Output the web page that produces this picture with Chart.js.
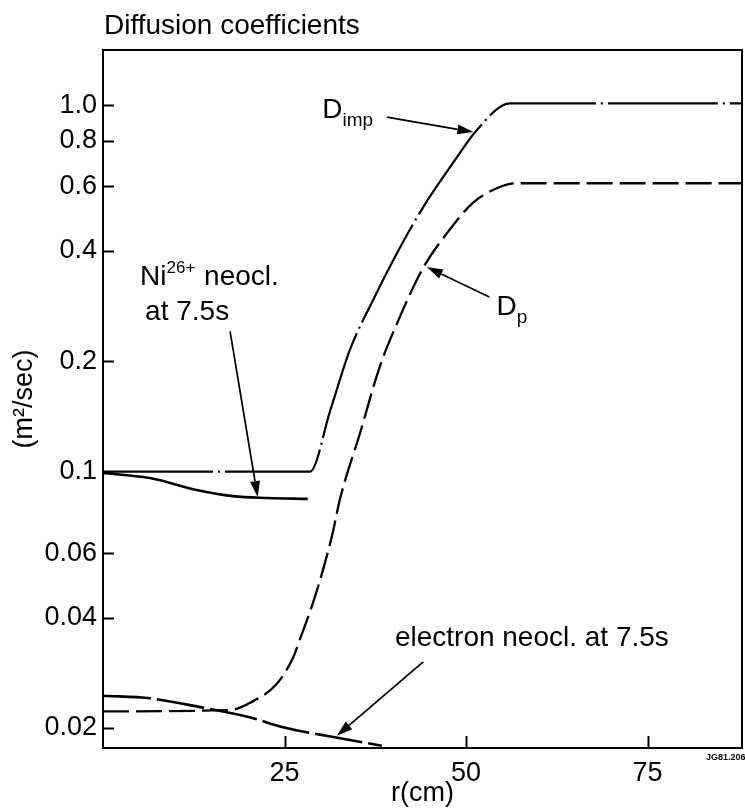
<!DOCTYPE html>
<html>
<head>
<meta charset="utf-8">
<script src="https://cdn.jsdelivr.net/npm/chart.js@4.4.1/dist/chart.umd.min.js"></script>
<style>
  html, body { margin: 0; padding: 0; background: #fff; }
  canvas { display: block; }
</style>
</head>
<body>
<canvas id="c" width="745" height="810"></canvas>
<script>
// ---------------- data ----------------
const titleText = 'Diffusion coefficients';
const xAxisTitle = 'r(cm)';
const yAxisTitle = '(m\u00B2/sec)';
const xRange = [0, 88];
const yRange = [0.01764, 1.413];
const xTickValues = [25, 50, 75];
const yTickValues = [0.02, 0.04, 0.06, 0.1, 0.2, 0.4, 0.6, 0.8, 1.0];
const yTickLabels = ['0.02', '0.04', '0.06', '0.1', '0.2', '0.4', '0.6', '0.8', '1.0'];

// D_imp (long dash-dot)
const dImpR = [0, 28.5, 31.3, 34.0, 37.2, 40.5, 44.1, 48.2, 51.5, 56.0, 88];
const dImpV = [0.100, 0.100, 0.147, 0.215, 0.294, 0.395, 0.527, 0.695, 0.855, 1.01, 1.01];

// D_p (dashed)
const dPR = [0, 17.5, 20.2, 24.0, 26.2, 27.1, 28.9, 30.3, 31.7, 32.6, 35.4, 38.1, 40.5, 44.1, 47.4, 50.9, 54.3, 57.0, 88];
const dPV = [0.0222, 0.0224, 0.0234, 0.0265, 0.0312, 0.0348, 0.0438, 0.054, 0.069, 0.0837, 0.1275, 0.193, 0.254, 0.360, 0.448, 0.540, 0.594, 0.612, 0.612];

// Ni26+ neoclassical at 7.5 s (solid)
const niR = [0, 5.5, 7.4, 12.9, 17.9, 22.6, 28.2];
const niV = [0.0992, 0.0967, 0.0952, 0.0892, 0.0858, 0.0848, 0.0843];

// electron neoclassical at 7.5 s (long dashes)
const elR = [0, 6.5, 13.4, 20.2, 24.8, 31.7, 38.4];
const elV = [0.0245, 0.0241, 0.0228, 0.0214, 0.0201, 0.0189, 0.0179];

// annotation labels (positions in data units: r, value)
const labels = [
  { r: 30.2, v: 0.922, parts: [{ t: 'D' }, { t: 'imp', sub: true }] },
  { r: 54.2, v: 0.268, parts: [{ t: 'D' }, { t: 'p', sub: true }] },
  { r: 5.1, v: 0.3228, parts: [{ t: 'Ni' }, { t: '26+', sup: true }, { t: ' neocl.' }] },
  { r: 5.8, v: 0.259, parts: [{ t: 'at 7.5s' }] },
  { r: 40.2, v: 0.0334, parts: [{ t: 'electron neocl. at 7.5s' }] }
];
const arrows = [
  { from: [39.1, 0.927], to: [51.0, 0.844] },
  { from: [53.2, 0.2995], to: [44.6, 0.3617] },
  { from: [17.5, 0.2415], to: [21.3, 0.0853] },
  { from: [44.1, 0.0303], to: [32.2, 0.01905] }
];
const stampText = 'JG81.206';

// ---------------- chart ----------------
const FONT = '"Liberation Sans", Arial, Helvetica, sans-serif';
const pts = (rs, vs) => rs.map((r, i) => ({ x: r, y: vs[i] }));

const decor = {
  id: 'decor',
  afterDraw(chart) {
    const { ctx, chartArea: a, scales: { x, y } } = chart;
    ctx.save();
    ctx.strokeStyle = '#000';
    ctx.fillStyle = '#000';
    ctx.lineWidth = 2;
    // inward tick marks
    ctx.beginPath();
    y.ticks.forEach(t => {
      const py = Math.round(y.getPixelForValue(t.value)) + 0.5;
      ctx.moveTo(a.left, py); ctx.lineTo(a.left + 11, py);
    });
    x.ticks.forEach(t => {
      const px = Math.round(x.getPixelForValue(t.value)) + 0.5;
      ctx.moveTo(px, a.bottom); ctx.lineTo(px, a.bottom - 12);
    });
    ctx.stroke();

    ctx.textBaseline = 'alphabetic';
    ctx.textAlign = 'left';

    // title
    ctx.font = '28px ' + FONT;
    ctx.fillText(titleText, a.left + 1, a.top - 16);

    // labels
    labels.forEach(l => {
      let px = x.getPixelForValue(l.r);
      const py = y.getPixelForValue(l.v);
      l.parts.forEach(p => {
        let size = 28, dy = 0;
        if (p.sub) { size = 19; dy = 8; }
        if (p.sup) { size = 17; dy = -12; }
        ctx.font = size + 'px ' + FONT;
        ctx.fillText(p.t, px, py + dy);
        px += ctx.measureText(p.t).width + (p.sub || p.sup ? 1 : 0);
      });
    });

    // arrows
    ctx.lineWidth = 1.7;
    arrows.forEach(ar => {
      const x0 = x.getPixelForValue(ar.from[0]), y0 = y.getPixelForValue(ar.from[1]);
      const x1 = x.getPixelForValue(ar.to[0]), y1 = y.getPixelForValue(ar.to[1]);
      const ang = Math.atan2(y1 - y0, x1 - x0);
      const Lh = 16, W = 5;
      const bx = x1 - Lh * Math.cos(ang), by = y1 - Lh * Math.sin(ang);
      ctx.beginPath();
      ctx.moveTo(x0, y0); ctx.lineTo(bx, by);
      ctx.stroke();
      ctx.beginPath();
      ctx.moveTo(x1, y1);
      ctx.lineTo(bx + W * Math.sin(ang), by - W * Math.cos(ang));
      ctx.lineTo(bx - W * Math.sin(ang), by + W * Math.cos(ang));
      ctx.closePath();
      ctx.fill();
    });

    // stamp
    ctx.font = 'bold 9px ' + FONT;
    ctx.fillText(stampText, a.right - 36, a.bottom + 12);
    ctx.restore();
  }
};

const common = { pointRadius: 0, borderColor: '#000', fill: false, cubicInterpolationMode: 'monotone' };
const tickFont = { family: FONT, size: 27 };
const axisBorder = { display: true, color: '#000', width: 2 };
const noGrid = { display: false, drawTicks: false };

new Chart(document.getElementById('c'), {
  type: 'line',
  data: {
    datasets: [
      Object.assign({ label: 'D_imp', data: pts(dImpR, dImpV), borderWidth: 2.2, borderDash: [110, 5, 2, 5] }, common),
      Object.assign({ label: 'D_p', data: pts(dPR, dPV), borderWidth: 2.3, borderDash: [26, 7] }, common),
      Object.assign({ label: 'Ni26+ neocl. at 7.5s', data: pts(niR, niV), borderWidth: 2.6 }, common),
      Object.assign({ label: 'electron neocl. at 7.5s', data: pts(elR, elV), borderWidth: 2.6, borderDash: [48, 6] }, common)
    ]
  },
  options: {
    responsive: false,
    animation: false,
    layout: { padding: { top: 50, right: 3, left: 0, bottom: 0 } },
    plugins: { legend: { display: false }, tooltip: { enabled: false }, title: { display: false } },
    scales: {
      x: {
        type: 'linear', position: 'bottom', min: xRange[0], max: xRange[1],
        afterBuildTicks: s => { s.ticks = xTickValues.map(v => ({ value: v })); },
        grid: noGrid,
        border: axisBorder,
        ticks: { color: '#000', padding: 9, font: tickFont, callback: v => String(v), maxRotation: 0 },
        title: { display: true, text: xAxisTitle, color: '#000', font: { family: FONT, size: 27 }, padding: { top: 0, bottom: 0 } },
        afterFit: s => { s.height = 62; }
      },
      xTop: {
        type: 'linear', position: 'top', min: xRange[0], max: xRange[1],
        grid: noGrid, border: axisBorder, ticks: { display: false }, title: { display: false },
        afterFit: s => { s.height = 0; }
      },
      y: {
        type: 'logarithmic', position: 'left', min: yRange[0], max: yRange[1],
        afterBuildTicks: s => { s.ticks = yTickValues.map(v => ({ value: v })); },
        grid: noGrid,
        border: axisBorder,
        ticks: { color: '#000', padding: 6, font: tickFont, callback: (v, i) => yTickLabels[i] },
        title: { display: true, text: yAxisTitle, color: '#000', font: { family: FONT, size: 27 }, padding: { top: 8, bottom: 0 } },
        afterFit: s => { s.width = 103; }
      },
      yRight: {
        type: 'logarithmic', position: 'right', min: yRange[0], max: yRange[1],
        grid: noGrid, border: axisBorder, ticks: { display: false }, title: { display: false },
        afterFit: s => { s.width = 0; }
      }
    }
  },
  plugins: [decor]
});
</script>
</body>
</html>
